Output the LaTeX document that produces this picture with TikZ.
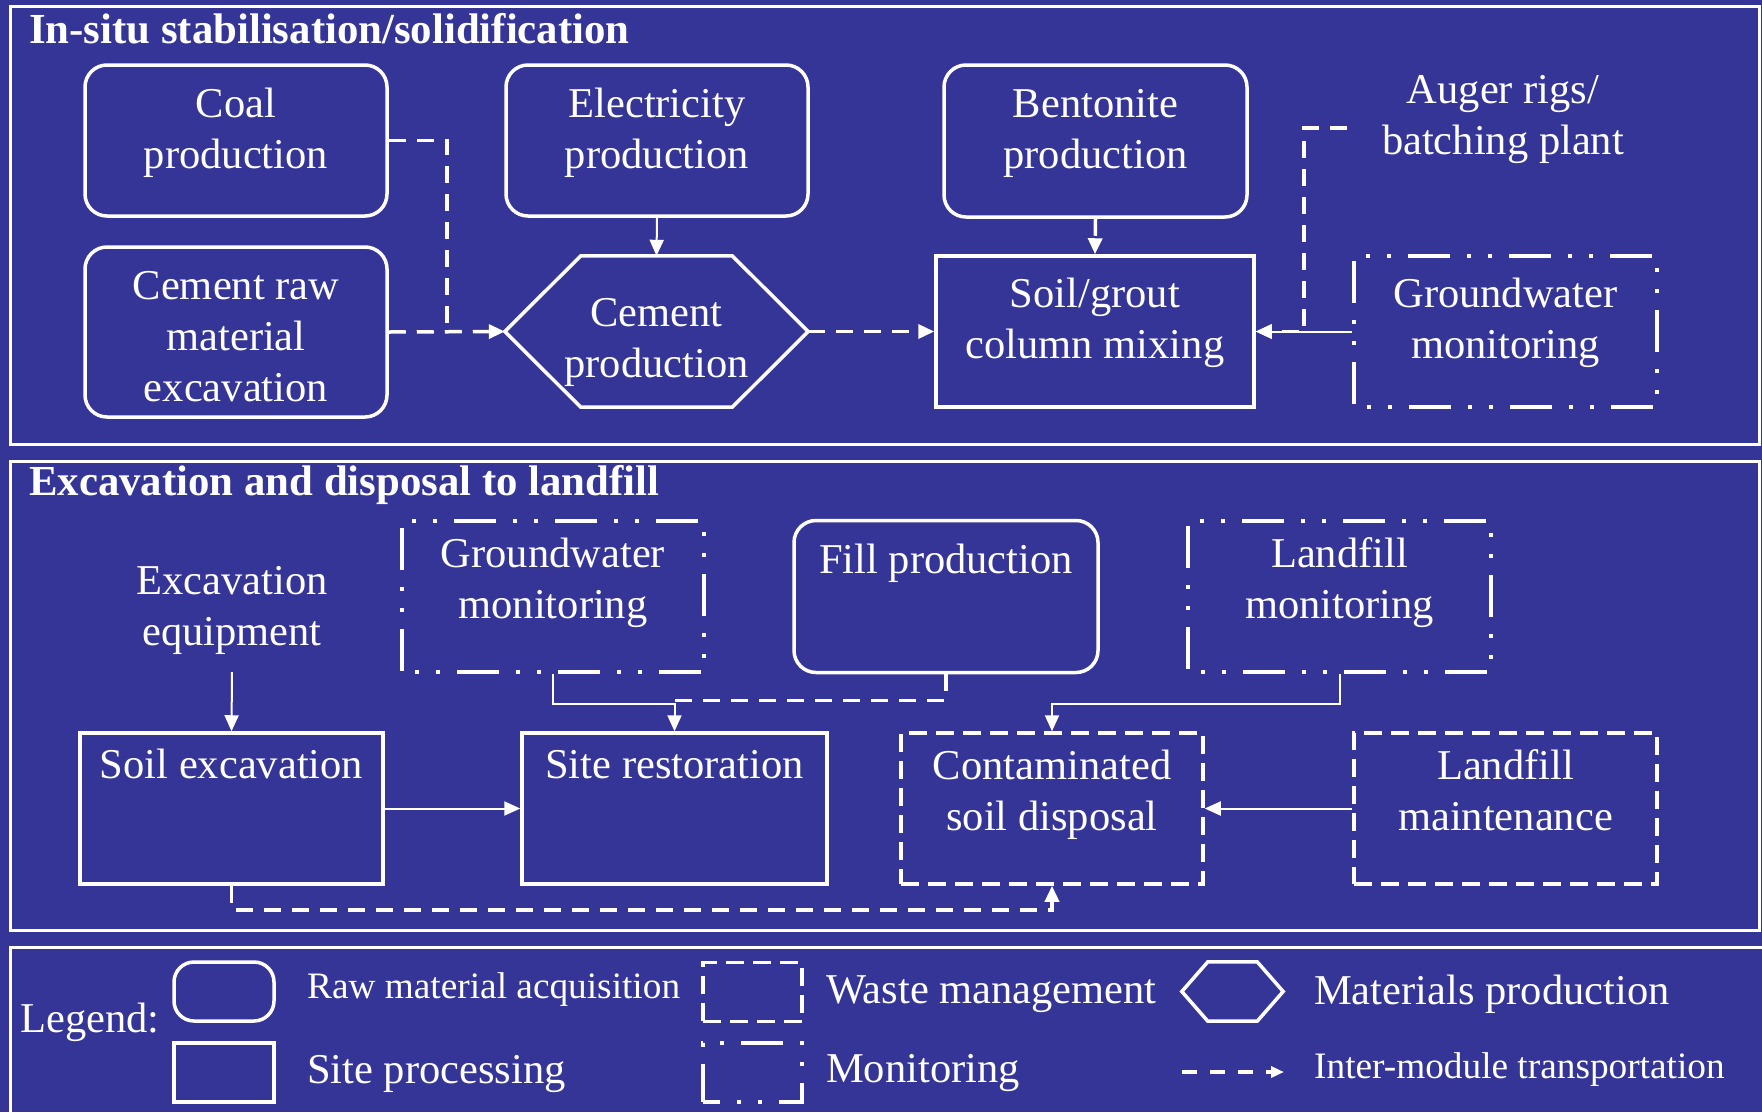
\documentclass[tikz,border=0pt]{standalone}
\usepackage{fontspec}
\setmainfont{Liberation Serif}
\usetikzlibrary{arrows.meta,calc}
\definecolor{bg}{RGB}{53,53,151}
\begin{document}
\begin{tikzpicture}[x=1pt,y=-1pt,
  boxline/.style={draw=white, line width=3.5pt, inner sep=0pt},
  sz/.style 2 args={minimum width=#1pt, minimum height=#2pt},
  rbox/.style={boxline, rounded corners=22pt},
  sbox/.style={boxline},
  wbox/.style={boxline, dash pattern=on 18pt off 9pt},
  mbox/.style={boxline, dash pattern=on 42pt off 17pt on 4pt off 17pt on 4pt off 17pt, dash phase=46pt},
  hbox/.style={inner sep=0pt},
  panel/.style={draw=white, line width=3pt},
  sconn/.style={draw=white, line width=2pt},
  dconn/.style={draw=white, line width=3.5pt, dash pattern=on 17pt off 11pt},
  tip/.style={-{Triangle[length=16pt,width=14pt]}},
  txt/.style={font=\fontsize{42.5pt}{51pt}\selectfont, align=center, inner sep=0pt, anchor=base, text=white},
  ltxt/.style={font=\fontsize{42.5pt}{51pt}\selectfont, inner sep=0pt, anchor=base west, text=white},
  stxt/.style={font=\fontsize{37.3pt}{45pt}\selectfont, inner sep=0pt, anchor=base west, text=white},
  ttl/.style={font=\fontsize{42.8pt}{50pt}\selectfont\bfseries, inner sep=0pt, anchor=base west, text=white}
]
\fill[bg] (0,0) rectangle (1762,1112);
\useasboundingbox (0,0) rectangle (1762,1112);

% panels
\draw[panel] (10,6) rectangle (1759,444);
\draw[panel] (10,461) rectangle (1759,930);
\draw[panel] (1780,947) -- (10,947) -- (10,1130);

% titles
\node[ttl] (t1) at (29,43) {In-situ stabilisation/solidification};
\node[ttl] (t2) at (29,495) {Excavation and disposal to landfill};

% ---------- section 1 ----------
\node[rbox, sz={302}{151}] (coal) at (236,140.5) {};
\node[txt] (coal-t) at (236,168) {Coal\\production};
\node[rbox, sz={302}{170}] (raw) at (236,332) {};
\node[txt] (raw-t) at (236,401) {Cement raw\\material\\excavation};
\node[rbox, sz={302}{151}] (elec) at (657,140.5) {};
\node[txt] (elec-t) at (657,168) {Electricity\\production};
\node[hbox, sz={303}{151}] (cem) at (656.5,331.5) {};
\draw[boxline] (cem.west) -- ($(cem.north west)+(76,0)$) -- ($(cem.north east)+(-76,0)$) -- (cem.east) -- ($(cem.south east)+(-76,0)$) -- ($(cem.south west)+(76,0)$) -- cycle;
\node[txt] (cem-t) at (656.5,377) {Cement\\production};
\node[rbox, sz={303}{152}] (bent) at (1095.5,141) {};
\node[txt] (bent-t) at (1095.5,168) {Bentonite\\production};
\node[sbox, sz={318}{151}] (soil) at (1095,331.5) {};
\node[txt] (soil-t) at (1095,358) {Soil/grout\\column mixing};
\node[txt] (auger) at (1503,154) {Auger rigs/\\batching plant};
\node[mbox, sz={303}{151}] (gw1) at (1505.5,331.5) {};
\node[txt] (gw1-t) at (1505.5,358) {Groundwater\\monitoring};

\coordinate (j1) at (447,331.5);
\draw[dconn] (coal.east) -| (j1);
\draw[dconn, tip] (raw.east) -- (cem.west);
\draw[sconn, tip] (elec.south) -- (cem.north);
\draw[dconn, tip] (cem.east) -- (soil.west);
\draw[dconn, tip] (bent.south) -- (soil.north);
\coordinate (a1) at (1347,128);
\coordinate (a2) at (1304,331.5);
\draw[sconn, tip] (gw1.west) -- (soil.east);
\draw[dconn, tip] (a1) -| (a2) -- (soil.east);

% ---------- section 2 ----------
\node[txt] (equip) at (232,645) {Excavation\\equipment};
\node[mbox, sz={302}{151}] (gw2) at (553,596.5) {};
\node[txt] (gw2-t) at (553,618) {Groundwater\\monitoring};
\node[rbox, sz={304}{152}] (fill) at (946,596.5) {};
\node[txt] (fill-t) at (946,573) {Fill production};
\node[mbox, sz={303}{151}] (lfm) at (1339.5,596.5) {};
\node[txt] (lfm-t) at (1339.5,618) {Landfill\\monitoring};
\node[sbox, sz={303}{151}] (soilex) at (231.5,808.5) {};
\node[txt] (soilex-t) at (231.5,778) {Soil excavation};
\node[sbox, sz={305}{151}] (site) at (674.5,808.5) {};
\node[txt] (site-t) at (674.5,778) {Site restoration};
\node[wbox, sz={302}{151}] (cont) at (1052,808.5) {};
\node[txt] (cont-t) at (1052,830) {Contaminated\\soil disposal};
\node[wbox, sz={303}{151}] (lfmain) at (1505.5,808.5) {};
\node[txt] (lfmain-t) at (1505.5,830) {Landfill\\maintenance};

\coordinate (e1) at (232,672);
\draw[sconn, tip] (e1) -- (soilex.north);
\draw[dconn] (fill.south) |- ($(site.north)+(0,-31)$);
\draw[sconn, tip] (gw2.south) -- ++(0,30) -| (site.north);
\draw[sconn, tip] (lfm.south) -- ++(0,30) -| (cont.north);
\draw[sconn, tip] (soilex.east) -- (site.west);
\draw[sconn, tip] (lfmain.west) -- (cont.east);
\draw[dconn, tip] (soilex.south) -- ++(0,24) -| (cont.south);

% ---------- legend ----------
\node[ltxt] (leg) at (20,1032) {Legend:};
\node[rbox, rounded corners=20pt, sz={100}{59}] (lr) at (224,991.5) {};
\node[sbox, sz={100}{59}] (ls) at (224,1072.5) {};
\node[stxt] (lr-t) at (307,998) {Raw material acquisition};
\node[ltxt] (ls-t) at (307,1083) {Site processing};
\node[wbox, sz={99}{59}] (lw) at (752.5,992) {};
\node[mbox, dash phase=25pt, sz={99}{59}] (lm) at (752.5,1072.5) {};
\node[ltxt] (lw-t) at (826,1003) {Waste management};
\node[ltxt] (lm-t) at (826,1082) {Monitoring};
\node[hbox, sz={101}{59}] (lh) at (1232.5,991.5) {};
\draw[boxline] (lh.west) -- ($(lh.north west)+(26,0)$) -- ($(lh.north east)+(-26,0)$) -- (lh.east) -- ($(lh.south east)+(-26,0)$) -- ($(lh.south west)+(26,0)$) -- cycle;
\node[ltxt] (lh-t) at (1314,1004) {Materials production};
\coordinate (la1) at (1182,1072);
\coordinate (la2) at (1284,1072);
\draw[dconn, dash pattern=on 15pt off 13pt, -{Triangle[length=13pt,width=11pt]}] (la1) -- (la2);
\node[stxt] (la-t) at (1314,1078) {Inter-module transportation};
\end{tikzpicture}
\end{document}
